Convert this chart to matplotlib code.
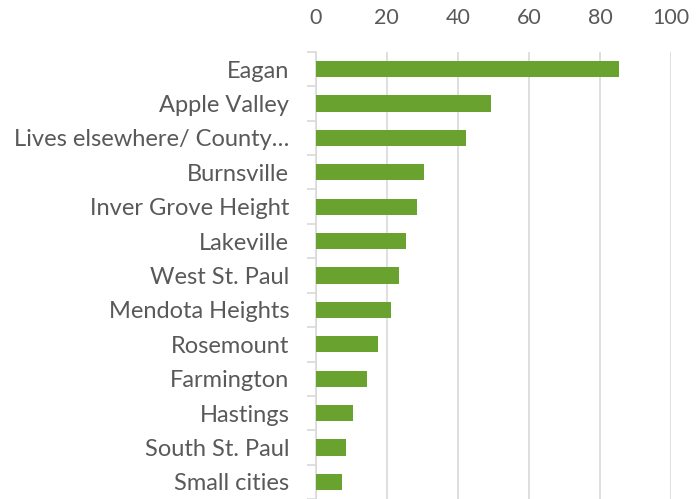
import matplotlib.pyplot as plt
import numpy as np

# Données
villes = ['Eagan', 'Apple Valley', 'Lives elsewhere/ County…', 'Burnsville',
          'Inver Grove Height', 'Lakeville', 'West St. Paul', 'Mendota Heights',
          'Rosemount', 'Farmington', 'Hastings', 'South St. Paul', 'Small cities']
valeurs = [85.3, 49.4, 42.3, 30.4, 28.4, 25.4, 23.4, 21.3, 17.4, 14.4, 10.4, 8.4, 7.5]
ticks_x = [0, 20, 40, 60, 80, 100]

vert = '#6aa22f'
gris_texte = '#595959'
gris_ligne = '#d9d9d9'

plt.rcParams['font.family'] = ['Lato', 'DejaVu Sans']

fig = plt.figure(figsize=(7, 4.99), dpi=100)
ax = fig.add_axes([315.7 / 700, -0.2 / 499, (671 - 315.7) / 700, (499.2 - 51.8) / 499])

index = np.arange(len(villes))
ax.barh(index, valeurs, height=0.47, color=vert, zorder=3)

ax.set_ylim(len(villes) - 0.5, -0.5)
ax.set_xlim(0, 100)

# Axe des x en haut
ax.xaxis.tick_top()
ax.set_xticks(ticks_x)
ax.tick_params(axis='x', length=0, pad=17, labelsize=15.5, labelcolor=gris_texte)
ax.grid(axis='x', color=gris_ligne, linewidth=1.2, zorder=0)

# Axe des y : étiquettes et petites graduations entre catégories
ax.set_yticks(index)
ax.set_yticklabels(villes)
ax.tick_params(axis='y', length=0, pad=19, labelsize=17, labelcolor=gris_texte)
ax.set_yticks(np.arange(-0.5, len(villes), 1), minor=True)
ax.tick_params(axis='y', which='minor', length=6.5, width=1.2, color=gris_ligne)

for s in ['top', 'right', 'bottom']:
    ax.spines[s].set_visible(False)
ax.spines['left'].set_color(gris_ligne)
ax.spines['left'].set_linewidth(1.2)

fig.savefig('out.png', dpi=100)
